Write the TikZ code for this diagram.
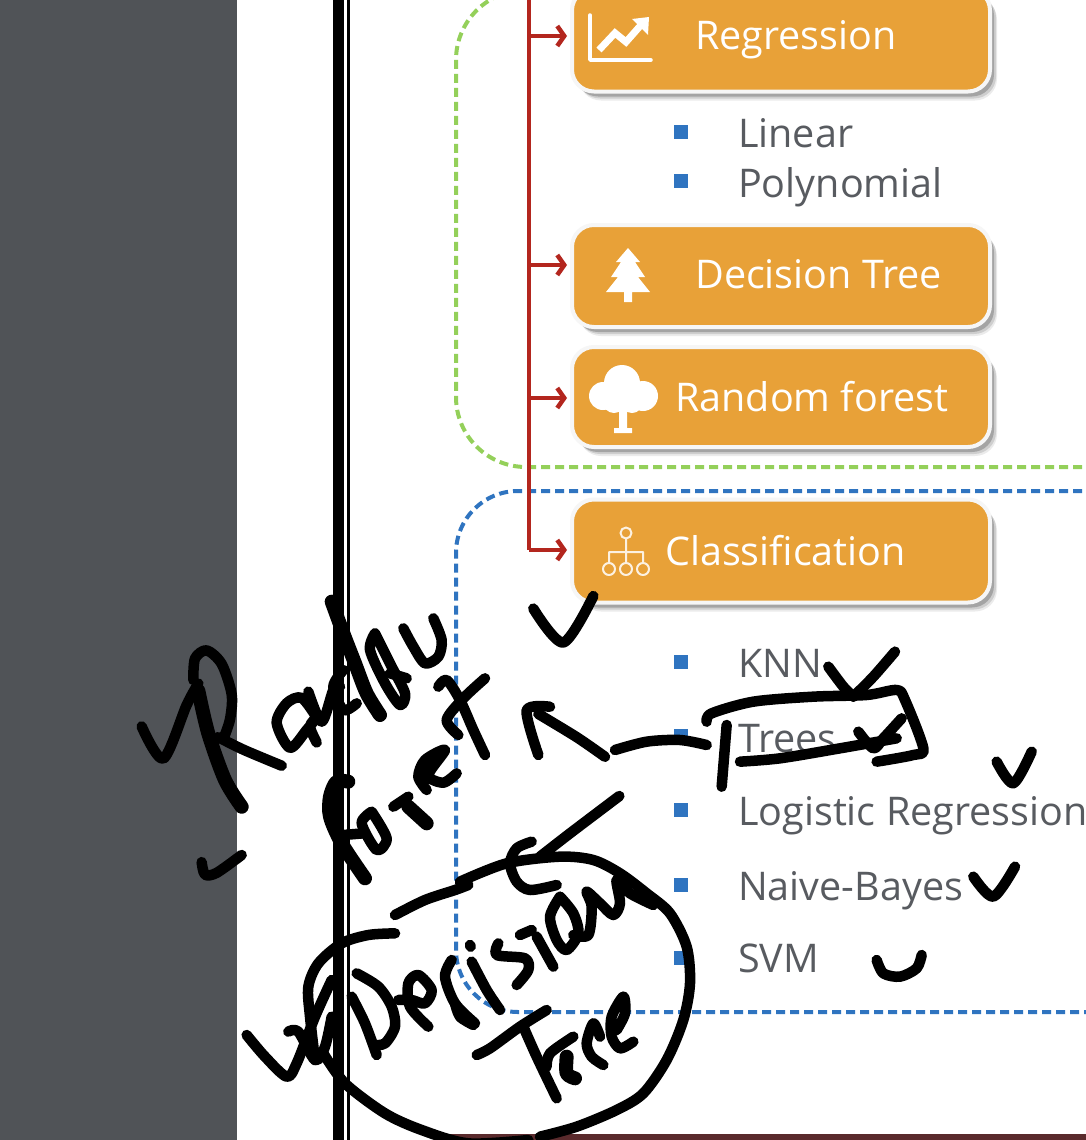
\documentclass[tikz,border=0pt]{standalone}
\usepackage{fontspec}
\setmainfont{Open Sans}
\usetikzlibrary{arrows.meta,shadows}
\definecolor{panelgray}{HTML}{505357}
\definecolor{boxorange}{HTML}{E8A138}
\definecolor{trunkred}{HTML}{B3261E}
\definecolor{dashgreen}{HTML}{94D05A}
\definecolor{dashblue}{HTML}{2F74C0}
\definecolor{bartext}{HTML}{585B60}
\definecolor{footbar}{HTML}{5A2A2C}
\tikzset{
  algobox/.style={fill=boxorange,draw=white!93!gray,line width=4pt,rounded corners=22pt,
    minimum width=418pt,inner sep=0pt,outer sep=0pt,
    drop shadow={shadow xshift=7pt,shadow yshift=-9pt,opacity=.08,fill=black},
    drop shadow={shadow xshift=6pt,shadow yshift=-7pt,opacity=.12,fill=black},
    drop shadow={shadow xshift=4pt,shadow yshift=-5pt,opacity=.2,fill=black}},
  boxlabel/.style={anchor=base west,inner sep=0pt,text=white,font=\fontsize{39.5}{40}\selectfont},
  itemlabel/.style={anchor=base west,inner sep=0pt,text=bartext,font=\fontsize{39.5}{40}\selectfont},
  trunk/.style={draw=trunkred,line width=4pt},
  branch/.style={draw=trunkred,line width=4.5pt,shorten >=5pt,-{Straight Barb[length=7pt,width=20pt,line width=4.5pt]}},
  bullet/.style={fill=dashblue,draw=none,minimum size=14pt,inner sep=0pt},
  inkline/.style={draw=black,line width=10.5pt,line cap=round,line join=round},
  inkfat/.style={inkline,line width=14pt},
  icon/.style={draw=white,fill=none,line cap=round,line join=round}
}
\begin{document}
\begin{tikzpicture}[x=1pt,y=-1pt]
  \clip (0,0) rectangle (1086,1140);
  \fill[white] (0,0) rectangle (1086,1140);
  \fill[panelgray] (0,0) rectangle (237,1140);
  \fill[footbar] (450,1134) rectangle (1086,1140);

  % dashed frames
  \draw[dashgreen,line width=4pt,dash pattern=on 9pt off 5pt,rounded corners=70pt] (1110,467) -- (456,467) -- (456,-10) -- (1110,-10);
  \draw[dashblue,line width=4pt,dash pattern=on 9pt off 5pt,rounded corners=62pt] (1110,491) -- (456,491) -- (456,1012) -- (1110,1012);

  % boxes
  \node[algobox,minimum height=103pt] (regbox) at (781,40) {};
  \node[algobox,minimum height=102pt] (treebox) at (781,276) {};
  \node[algobox,minimum height=100pt] (forestbox) at (781,397) {};
  \node[algobox,minimum height=103pt] (classbox) at (781,551) {};

  \node[boxlabel] (reglabel) at (695,49) {Regression};
  \node[boxlabel] (treelabel) at (695,288) {Decision Tree};
  \node[boxlabel] (forestlabel) at (675,411) {Random forest};
  \node[boxlabel] (classlabel) at (665,565) {Classification};

  % trunk and branches
  \coordinate (trunktop) at (529,-5);
  \coordinate (regjoin) at (529,36);
  \coordinate (treejoin) at (529,265);
  \coordinate (forestjoin) at (529,398);
  \coordinate (classjoin) at (529,550);
  \draw[trunk] (trunktop) -- (classjoin);
  \draw[branch] (regjoin) -- (regjoin -| regbox.west);
  \draw[branch] (treejoin) -- (treejoin -| treebox.west);
  \draw[branch] (forestjoin) -- (forestjoin -| forestbox.west);
  \draw[branch] (classjoin) -- (classjoin -| classbox.west);

  % icons
  \draw[icon,line width=3.5pt] (590,15) -- (590,60) -- (651,60);
  \draw[icon,line width=7pt,line cap=butt,line join=miter] (599,50) -- (615,33) -- (626,42) -- (641,25);
  \fill[white] (632,19) -- (649,17) -- (648,35) -- cycle;
  \fill[white] (628,248) -- (640,262) -- (635,262) -- (645,277) -- (638,277) -- (650,292) -- (632,292) -- (632,302) -- (624,302) -- (624,292) -- (606,292) -- (618,277) -- (611,277) -- (621,262) -- (616,262) -- cycle;
  \fill[white] (622,383) circle (18pt) (603,396) circle (14pt) (643,396) circle (15pt) (614,402) circle (11pt) (632,402) circle (11pt);
  \fill[white] (619,400) rectangle (627,430) (614,428) rectangle (632,433);
  \draw[icon,line width=2pt,draw=white!85!boxorange] (626,533) circle (5.5pt) (609,569) circle (6pt) (626,569) circle (6pt) (643,569) circle (6pt) (626,539) -- (626,563) (609,563) -- (609,552) -- (643,552) -- (643,563);

  % item lists
  \foreach \itemy/\itemname in {132/lin,181/poly,662/knn,736/trees,810/logit,885/bayes,958/svm}
    \node[bullet] (bullet\itemname) at (681,\itemy) {};
  \node[itemlabel] (linlabel) at (738,147) {Linear};
  \node[itemlabel] (polylabel) at (738,197) {Polynomial};
  \node[itemlabel] (knnlabel) at (738,677) {KNN};
  \node[itemlabel] (treeslabel) at (738,752) {Trees};
  \node[itemlabel] (logitlabel) at (738,825) {Logistic Regression};
  \node[itemlabel] (bayeslabel) at (738,900) {Naive-Bayes};
  \node[itemlabel] (svmlabel) at (738,972) {SVM};

  % double rule
  \fill[black] (333,0) rectangle (344,1140);
  \fill[black] (347,0) rectangle (350,1140);

  % handwriting, left part
  \begin{scope}[shift={(130,580)},xscale=1/3,yscale=1/2.8]
    \draw[inkline] plot[smooth] coordinates {(35,410) (100,500) (170,350) (205,290)};
    \draw[inkline] plot[smooth] coordinates {(190,280) (195,220) (230,197) (275,235) (305,320) (300,390) (280,445)};
    \draw[inkline] plot[smooth] coordinates {(265,440) (340,475) (455,520)};
    \draw[inkfat] plot[smooth] coordinates {(205,310) (235,430) (285,560) (335,635)};
    \draw[inkline] plot[smooth] coordinates {(215,790) (225,825) (260,820) (335,770)};
    \draw[inkline] plot[smooth] coordinates {(560,385) (515,330) (470,345) (440,400) (480,470) (530,420) (560,385) (540,410) (560,455)};
    \draw[inkline] plot[smooth] coordinates {(1210,80) (1300,175) (1390,45)};
    \draw[inkline] plot[smooth] coordinates {(1425,495) (1340,440) (1225,375)};
    \draw[inkline] plot[smooth] coordinates {(1260,355) (1190,365) (1225,490)};
  \end{scope}
  \begin{scope}[shift={(300,590)},scale=1/3]
    \draw[inkfat] plot[smooth] coordinates {(95,35) (130,130) (165,220) (200,310) (240,375)};
    \draw[inkline] plot[smooth] coordinates {(25,305) (65,395) (100,300) (120,290)};
    \draw[inkline] plot[smooth] coordinates {(130,240) (100,290) (130,360) (170,340)};
    \draw[inkline] plot[smooth] coordinates {(225,130) (210,180) (255,280) (300,345) (315,310) (275,230) (225,130)};
    \draw[inkline] plot[smooth] coordinates {(270,250) (320,265)};
    \draw[inkline] plot[smooth] coordinates {(310,115) (340,170) (375,220) (415,200) (425,150) (400,85)};
    \draw[inkline] plot[smooth] coordinates {(415,290) (440,270) (480,330) (520,420) (555,495)};
    \draw[inkline] plot[smooth] coordinates {(555,265) (490,325) (440,390) (475,435)};
    \draw[inkline] plot[smooth] coordinates {(470,550) (430,578) (385,555) (435,480) (375,510) (355,560) (380,600)};
    \draw[inkline] plot[smooth] coordinates {(280,650) (325,620)};
    \draw[inkfat] plot[smooth] coordinates {(325,650) (380,700)};
    \draw[inkline] plot[smooth] coordinates {(215,665) (185,700) (230,780) (260,745) (215,665)};
    \draw[inkfat] plot[smooth] coordinates {(145,575) (110,575) (90,620) (90,680) (125,760) (195,865)};
    \draw[inkline] plot[smooth] coordinates {(130,735) (190,730)};
  \end{scope}
  \begin{scope}[shift={(235,900)},scale=1/3]
    \draw[inkline] plot[smooth] coordinates {(35,405) (90,470) (155,530) (185,490) (240,350) (290,240)};
    \draw[inkline] plot[smooth] coordinates {(160,395) (190,395) (240,480) (270,440) (290,350)};
    \draw[inkline] plot[smooth] coordinates {(480,100) (400,105) (320,130) (250,190) (220,260) (225,350) (240,480)};
    \draw[inkline] plot[smooth] coordinates {(265,460) (330,550) (450,640) (560,690) (700,730) (880,720)};
    \draw[inkline] plot[smooth] coordinates {(350,290) (390,370) (425,465)};
    \draw[inkline] plot[smooth] coordinates {(365,220) (430,260) (470,320) (480,380) (450,430) (415,435)};
    \draw[inkline] plot[smooth] coordinates {(490,300) (530,300) (570,310) (590,270) (550,225) (520,250) (525,320) (580,380)};
    \draw[inkline] plot[smooth] coordinates {(650,180) (630,230) (660,310) (720,370)};
    \draw[inkline] plot[smooth] coordinates {(480,45) (570,0) (660,-30) (700,-45)};
  \end{scope}

  % handwriting, circle and Decision Tree
  \begin{scope}[shift={(460,840)},scale=1/3]
    \draw[inkline] plot[smooth] coordinates {(0,125) (140,70) (300,50) (400,60) (480,100) (560,160) (630,220) (680,320) (690,430) (670,540) (620,660) (550,760) (470,810) (350,860) (240,890)};
    \draw[inkline] plot[smooth] coordinates {(215,5) (170,25) (150,70) (170,125) (210,150) (290,135)};
    \draw[inkline] plot[smooth] coordinates {(240,50) (330,-20) (478,-132)};
    \draw[inkline] plot[smooth] coordinates {(30,315) (32,320)};
    \draw[inkline] plot[smooth] coordinates {(35,365) (80,450) (120,510)};
    \draw[inkline] plot[smooth] coordinates {(-15,490) (0,530) (40,555)};
    \draw[inkline] plot[smooth] coordinates {(115,310) (110,345) (195,355) (205,390) (170,435)};
    \draw[inkline] plot[smooth] coordinates {(180,285) (215,270)};
    \draw[inkline] plot[smooth] coordinates {(230,290) (280,380)};
    \draw[inkline] plot[smooth] coordinates {(300,170) (270,230) (290,300) (320,330) (355,280) (340,220) (300,170)};
    \draw[inkline] plot[smooth] coordinates {(340,285) (385,285) (395,200) (380,155) (420,190) (460,225) (480,190) (470,120) (510,160) (580,195)};
    \draw[inkline] plot[smooth] coordinates {(50,645) (90,625) (180,560) (260,510)};
    \draw[inkline] plot[smooth] coordinates {(190,560) (230,650) (290,775)};
    \draw[inkline] plot[smooth] coordinates {(260,680) (270,640) (340,590)};
    \draw[inkfat] plot[smooth] coordinates {(320,650) (320,700) (345,715)};
    \draw[inkline] plot[smooth] coordinates {(430,675) (395,650) (380,610) (400,550) (420,590)};
    \draw[inkline] plot[smooth] coordinates {(520,605) (480,625) (455,590) (455,530) (490,470) (495,520) (470,570)};
  \end{scope}

  % handwriting, check marks
  \begin{scope}[shift={(580,490)},scale=1/3]
    \draw[inkline] plot[smooth] coordinates {(745,530) (790,590) (820,620)};
    \draw[inkline] plot[smooth] coordinates {(820,620) (880,560) (945,485)};
    \draw[inkline] plot[smooth] coordinates {(380,695) (395,670) (520,635) (700,620) (860,615) (950,600) (975,630) (1030,775) (1000,795) (890,815)};
    \draw[inkline] plot[smooth] coordinates {(480,815) (600,805) (780,775) (950,745)};
    \draw[inkline] plot[smooth] coordinates {(440,705) (425,890)};
    \draw[inkline] plot[smooth] coordinates {(835,725) (880,775) (910,745) (965,685)};
    \draw[inkline] plot[smooth] coordinates {(105,780) (200,755) (300,750) (380,765)};
    \draw[inkline] plot[smooth] coordinates {(1250,815) (1300,880) (1355,785)};
    \draw[inkline] plot[smooth] coordinates {(1180,1160) (1240,1220) (1305,1130)};
    \draw[inkline] plot[smooth] coordinates {(890,1410) (910,1450) (960,1460) (1010,1435) (1025,1395)};
  \end{scope}
\end{tikzpicture}
\end{document}
